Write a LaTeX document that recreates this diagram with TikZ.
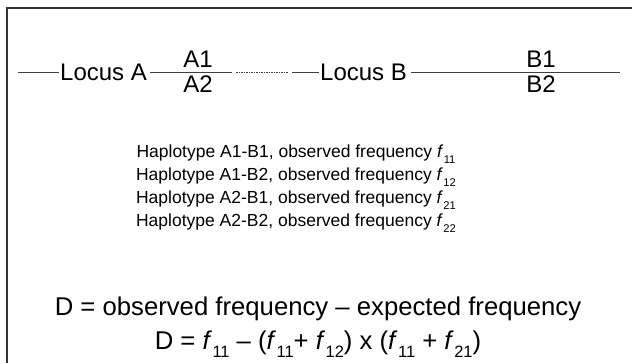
\documentclass[tikz,border=0pt]{standalone}
\usepackage{fontspec}
\usepackage{graphicx}
\setmainfont{Liberation Sans}
\newcommand{\ff}[1]{\textit{f}\kern0.02em\raisebox{-0.32em}{\scalebox{0.64}{#1}}}
\begin{document}
\begin{tikzpicture}[x=1pt,y=-1pt,
  frameline/.style={line width=1.4pt, draw=black!80},
  locusline/.style={line width=0.9pt, draw=black!75},
  dotline/.style={line width=0.9pt, draw=black!75, dash pattern=on 1.5pt off 1pt},
  loc/.style={font=\fontsize{24}{28}\selectfont, inner sep=0pt},
  big/.style={font=\fontsize{25.7}{30}\selectfont, inner sep=0pt},
  hap/.style={font=\fontsize{17.5}{21}\selectfont, inner sep=0pt}]
\useasboundingbox (0,0) rectangle (632,363);
\fill[white] (0,0) rectangle (632,363);
\coordinate (fbl) at (7,363);
\coordinate (ftl) at (7,8);
\coordinate (ftr) at (632,8);
\draw[frameline] (fbl) -- (ftl) -- (ftr);
% main line
\coordinate (l1s) at (18,72);
\node[loc, anchor=base west] (locA) at (60,80.6) {Locus A};
\coordinate (l2s) at (150,72);
\coordinate (l2e) at (232,72);
\node[loc, anchor=base] (a1) at (198,68) {A1};
\node[loc, anchor=base] (a2) at (198,93) {A2};
\coordinate (d1s) at (236,72);
\coordinate (d1e) at (288,72);
\coordinate (l3s) at (292,72);
\node[loc, anchor=base west] (locB) at (320,80.6) {Locus B};
\coordinate (l4s) at (411,72);
\coordinate (l4e) at (620,72);
\node[loc, anchor=base] (b1) at (541,68) {B1};
\node[loc, anchor=base] (b2) at (541,93) {B2};
\draw[locusline] (l1s) -- ([xshift=-1pt]l1s -| locA.west);
\draw[locusline] (l2s) -- (l2e);
\draw[dotline] (d1s) -- (d1e);
\draw[locusline] (l3s) -- ([xshift=-1pt]l3s -| locB.west);
\draw[locusline] (l4s) -- (l4e);
% haplotypes
\node[hap, anchor=base] (h1) at (296,158) {Haplotype A1-B1, observed frequency \ff{11}};
\node[hap, anchor=base] (h2) at (296,181) {Haplotype A1-B2, observed frequency \ff{12}};
\node[hap, anchor=base] (h3) at (296,204) {Haplotype A2-B1, observed frequency \ff{21}};
\node[hap, anchor=base] (h4) at (296,227) {Haplotype A2-B2, observed frequency \ff{22}};
% D
\node[big, anchor=base] (d1) at (318,316) {D = observed frequency -- expected frequency};
\node[big, anchor=base] (d2) at (318,349) {D = \ff{11} -- (\ff{11}+ \ff{12}) x (\ff{11} + \ff{21})};
\end{tikzpicture}
\end{document}
